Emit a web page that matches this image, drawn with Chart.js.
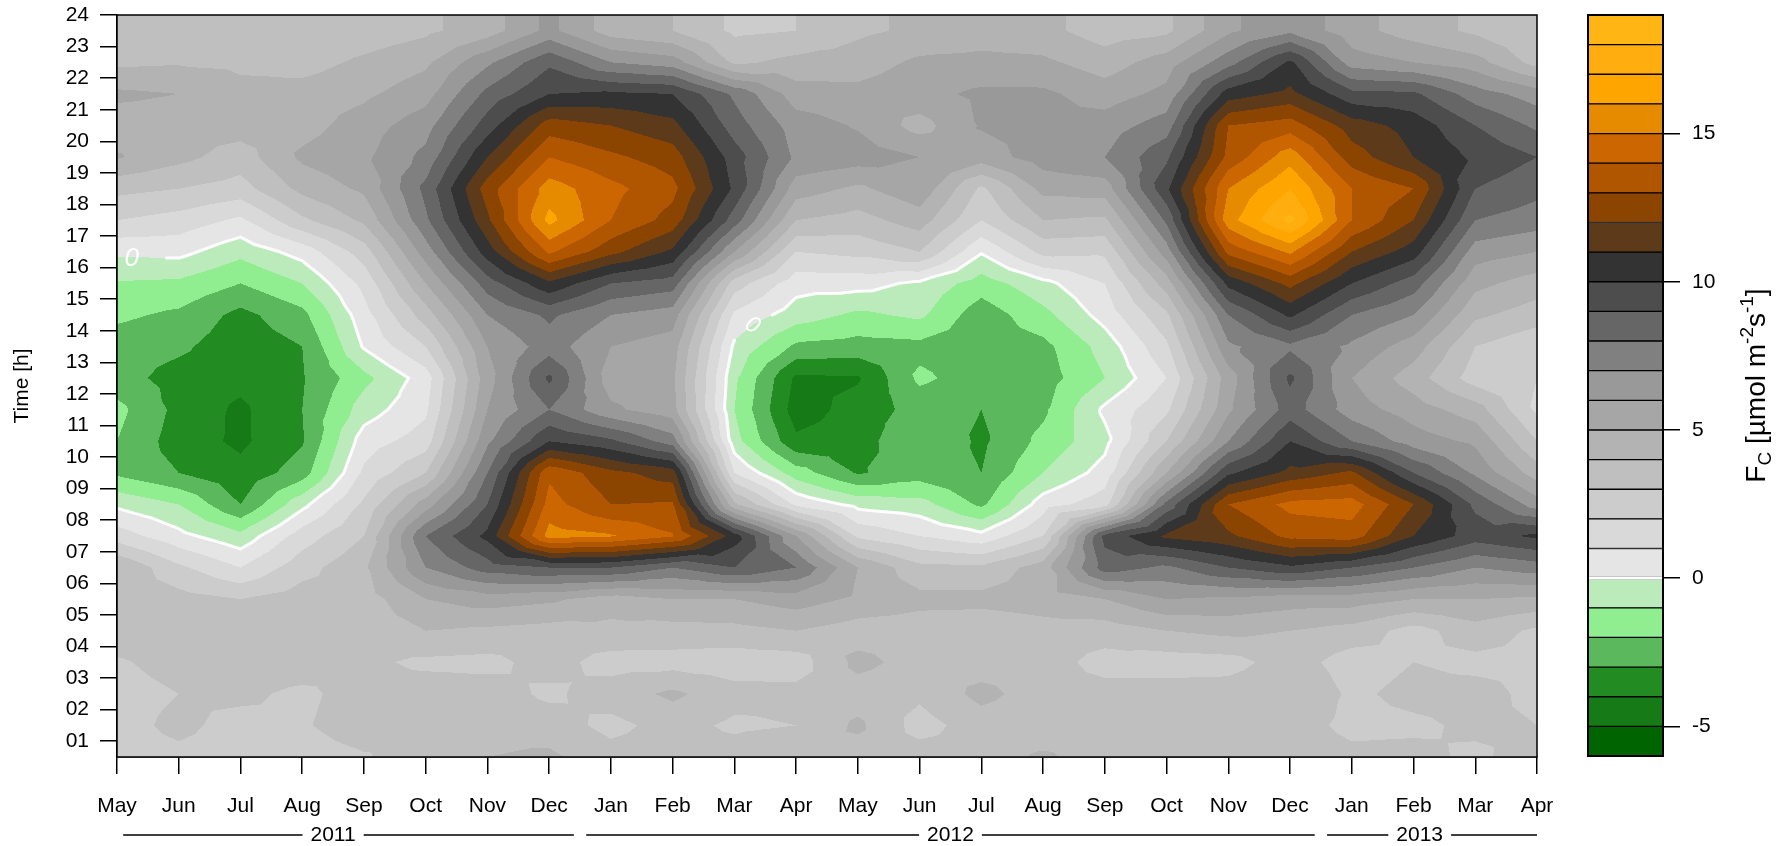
<!DOCTYPE html>
<html>
<head>
<meta charset="utf-8">
<title>CO2 flux fingerprint</title>
<style>
  html, body { margin: 0; padding: 0; background: #ffffff; }
  #wrap { position: relative; width: 1785px; height: 846px; overflow: hidden; background: #ffffff; }
  canvas { position: absolute; top: 0; }
  #main { left: 0; }
  #bar { left: 1560px; }
</style>
<script src="https://cdn.jsdelivr.net/npm/chart.js@4.4.1/dist/chart.umd.min.js"></script>
</head>
<body>
<div id="wrap">
  <canvas id="main" width="1560" height="846"></canvas>
  <canvas id="bar" width="225" height="846"></canvas>
</div>
<script>
// ---- axis categories -------------------------------------------------------
const monthLabels = ['May','Jun','Jul','Aug','Sep','Oct','Nov','Dec','Jan','Feb','Mar','Apr',
                     'May','Jun','Jul','Aug','Sep','Oct','Nov','Dec','Jan','Feb','Mar','Apr'];
const hours = [0.5, 1.5, 2.5, 3.5, 4.5, 5.5, 6.5, 7.5, 8.5, 9.5, 10.5, 11.5,
               12.5, 13.5, 14.5, 15.5, 16.5, 17.5, 18.5, 19.5, 20.5, 21.5, 22.5, 23.5];
const hourTicks = [1, 2, 3, 4, 5, 6, 7, 8, 9, 10, 11, 12, 13, 14, 15, 16, 17, 18, 19, 20, 21, 22, 23, 24];
const years = ['2011', '2012', '2013'];
const yearSpanStart = [0.1, 7.6, 19.6];
const yearSpanEnd = [7.4, 19.4, 23.0];
const yearLabelAt = [3.5, 13.5, 21.1];

// ---- colour key: FC levels and band colours ---------------------------------
const fcLevels = [-6, -5, -4, -3, -2, -1, 0, 1, 2, 3, 4, 5, 6, 7, 8, 9, 10, 11, 12, 13, 14, 15, 16, 17, 18, 19];
const bandColors = ['#006400', '#167a16', '#228b22', '#5cb85c', '#90ee90', '#bbeabb',
                    '#e5e5e5', '#d9d9d9', '#cccccc', '#bfbfbf', '#b3b3b3', '#a6a6a6',
                    '#999999', '#808080', '#666666', '#4d4d4d', '#333333',
                    '#5c3a1a', '#8b4500', '#b05500', '#cc6600', '#e68a00', '#ffa500', '#ffad0f', '#ffb614'];
const keyTicks = [-5, 0, 5, 10, 15];

// ---- monthly mean diurnal FC, umol m-2 s-1, hours 00:30 .. 23:30 -------------
const fc2011May = [2.6, 2.7, 2.7, 2.9, 3.5, 3.6, 4.0, 1.5, -0.2, -2.2, -2.0, -1.7, -2.6, -2.5, -1.8, -1.1, 0.2, 2.0, 3.3, 5.1, 4.5, 5.2, 3.8, 3.5];
const fc2011Jun = [2.8, 3.2, 3.0, 3.3, 3.6, 3.4, 2.2, 0.3, -1.0, -3.0, -3.5, -3.3, -3.4, -2.8, -2.2, -1.2, 0.3, 1.6, 3.0, 4.3, 4.5, 5.0, 3.9, 3.4];
const fc2011Jul = [2.6, 2.7, 3.2, 3.6, 3.5, 3.0, 1.0, -0.7, -3.0, -3.7, -4.2, -4.2, -3.7, -3.6, -3.3, -2.0, -0.7, 0.8, 2.6, 3.5, 4.5, 4.3, 3.8, 3.0];
const fc2011Aug = [2.6, 2.9, 2.8, 3.5, 4.0, 3.5, 2.6, 1.5, -0.3, -2.5, -3.1, -3.0, -3.1, -3.0, -2.3, -1.0, 0.4, 2.8, 4.3, 5.2, 4.6, 4.4, 3.6, 3.0];
const fc2011Sep = [2.9, 3.5, 3.4, 3.2, 3.4, 3.5, 3.8, 3.0, 2.2, 1.2, 0.5, -0.5, -1.3, 0.1, 0.6, 1.3, 2.5, 4.2, 5.2, 5.8, 5.5, 4.8, 4.2, 3.4];
const fc2011Oct = [3.6, 3.1, 3.5, 2.8, 4.0, 5.0, 7.0, 8.0, 5.5, 3.0, 1.5, 0.8, 0.5, 2.0, 3.5, 5.0, 6.5, 7.8, 8.3, 7.3, 6.6, 5.6, 4.8, 3.8];
const fc2011Nov = [4.0, 3.7, 3.5, 2.7, 3.8, 5.5, 8.5, 10.3, 9.0, 8.0, 6.8, 6.0, 5.6, 6.0, 7.0, 8.5, 10.5, 11.8, 12.5, 11.0, 9.5, 8.3, 6.8, 4.5];
const fc2011Dec = [4.2, 3.5, 2.8, 3.4, 3.6, 5.2, 9.0, 15.4, 14.4, 13.8, 10.0, 8.0, 9.2, 7.5, 8.2, 10.8, 14.2, 16.3, 15.5, 14.0, 12.5, 10.0, 8.8, 6.3];
const fc2012Jan = [3.4, 2.7, 3.5, 2.6, 3.7, 4.5, 9.0, 15.1, 13.0, 12.3, 9.2, 6.2, 5.5, 6.0, 7.0, 9.0, 12.3, 14.0, 14.3, 13.2, 12.0, 10.2, 7.0, 4.5];
const fc2012Feb = [3.6, 3.4, 4.2, 2.6, 3.6, 5.0, 8.0, 14.1, 13.1, 11.5, 7.5, 5.4, 5.2, 5.5, 6.5, 8.5, 10.8, 12.6, 13.3, 12.5, 11.3, 10.0, 6.5, 4.0];
const fc2012Mar = [3.5, 2.8, 3.4, 2.4, 3.7, 5.0, 9.0, 10.5, 4.2, 1.0, -0.6, -1.0, -0.8, -0.2, 0.8, 2.5, 6.0, 8.5, 9.8, 9.5, 8.5, 7.8, 3.8, 2.8];
const fc2012Apr = [4.0, 3.0, 3.3, 2.5, 4.0, 5.5, 8.0, 6.0, 0.8, -1.5, -3.8, -4.5, -4.2, -2.2, -0.5, 0.4, 2.0, 4.0, 5.5, 6.8, 6.5, 5.5, 4.3, 3.0];
const fc2012May = [3.5, 4.2, 3.5, 4.3, 3.5, 4.8, 5.0, 1.8, -0.3, -3.1, -3.5, -3.6, -4.1, -2.4, -1.2, 0.4, 2.3, 3.6, 4.8, 6.5, 5.9, 5.3, 4.5, 3.8];
const fc2012Jun = [3.5, 2.6, 3.2, 3.6, 3.5, 4.3, 3.3, 1.0, -0.6, -2.5, -2.0, -2.6, -1.8, -2.3, -0.8, -0.2, 3.0, 4.5, 5.7, 6.0, 4.6, 5.7, 5.2, 4.2];
const fc2012Jul = [3.4, 3.5, 4.3, 3.5, 3.3, 4.3, 3.2, 0.3, -2.2, -3.0, -3.2, -3.0, -2.5, -2.6, -2.6, -1.5, 0.1, 2.0, 2.8, 5.5, 6.1, 6.2, 5.3, 4.5];
const fc2012Aug = [4.2, 3.2, 3.5, 3.5, 3.6, 4.5, 4.5, 2.0, 0.5, -1.0, -1.7, -2.2, -2.5, -2.3, -1.3, -0.3, 2.3, 4.0, 5.3, 6.5, 6.3, 6.2, 5.2, 4.3];
const fc2012Sep = [3.4, 3.5, 3.4, 2.6, 3.5, 5.0, 8.5, 9.3, 1.6, 0.4, -0.3, 0.2, -1.0, -0.6, 0.4, 1.0, 2.2, 3.8, 5.5, 7.0, 6.5, 5.5, 4.5, 3.5];
const fc2012Oct = [4.0, 3.0, 3.5, 2.5, 4.0, 6.0, 7.8, 11.2, 8.3, 5.0, 3.0, 1.8, 1.0, 1.8, 2.8, 4.5, 6.5, 8.2, 9.8, 8.8, 7.5, 6.3, 5.5, 3.8];
const fc2012Nov = [3.6, 3.6, 3.5, 2.6, 4.3, 5.8, 9.0, 11.8, 13.0, 9.8, 7.0, 5.8, 5.5, 6.8, 8.0, 10.3, 13.3, 15.6, 15.0, 13.3, 13.0, 10.5, 7.6, 5.8];
const fc2012Dec = [3.7, 3.5, 4.0, 3.5, 4.0, 5.5, 9.8, 13.3, 14.3, 11.3, 10.0, 8.5, 9.2, 7.8, 10.2, 12.3, 15.2, 18.3, 17.0, 15.6, 13.5, 11.3, 10.2, 6.8];
const fc2013Jan = [3.3, 2.7, 2.8, 2.5, 3.6, 5.5, 9.0, 13.5, 14.5, 12.2, 8.0, 6.5, 6.0, 6.8, 8.0, 10.0, 12.0, 14.0, 14.0, 12.5, 11.5, 9.3, 6.5, 5.4];
const fc2013Feb = [3.3, 2.8, 3.3, 3.0, 2.6, 5.0, 8.0, 11.0, 12.0, 9.0, 6.5, 5.5, 4.5, 5.5, 7.0, 8.5, 10.5, 12.0, 13.0, 11.0, 10.6, 9.2, 6.0, 4.5];
const fc2013Mar = [2.8, 3.2, 3.4, 2.7, 3.6, 5.0, 7.0, 9.5, 8.8, 6.8, 5.8, 4.5, 2.5, 3.0, 4.2, 5.3, 6.5, 8.0, 9.0, 9.8, 9.0, 7.5, 5.4, 3.8];
const fc2013Apr = [3.5, 3.0, 2.7, 2.8, 2.8, 4.8, 7.5, 10.2, 6.5, 4.5, 3.0, 1.8, 2.0, 2.2, 3.5, 4.5, 6.0, 7.5, 8.3, 9.0, 7.8, 6.5, 3.6, 3.0];

const fcColumns = [fc2011May, fc2011Jun, fc2011Jul, fc2011Aug, fc2011Sep, fc2011Oct, fc2011Nov, fc2011Dec,
                   fc2012Jan, fc2012Feb, fc2012Mar, fc2012Apr, fc2012May, fc2012Jun, fc2012Jul, fc2012Aug,
                   fc2012Sep, fc2012Oct, fc2012Nov, fc2012Dec, fc2013Jan, fc2013Feb, fc2013Mar, fc2013Apr];

// ---- field interpolation (each grid cell split into four triangles) --------
const nCols = fcColumns.length;
const nRows = hours.length;

function bary(px, py, p1, p2, p3) {
  const det = (p2[1] - p3[1]) * (p1[0] - p3[0]) + (p3[0] - p2[0]) * (p1[1] - p3[1]);
  const l1 = ((p2[1] - p3[1]) * (px - p3[0]) + (p3[0] - p2[0]) * (py - p3[1])) / det;
  const l2 = ((p3[1] - p1[1]) * (px - p3[0]) + (p1[0] - p3[0]) * (py - p3[1])) / det;
  return l1 * p1[2] + l2 * p2[2] + (1 - l1 - l2) * p3[2];
}

function fieldAt(m, h) {
  const xm = Math.min(Math.max(m, 0), nCols - 1);
  const yh = Math.min(Math.max(h, hours[0]), hours[nRows - 1]);
  const i = Math.min(Math.floor(xm), nCols - 2);
  let j = Math.floor(yh - hours[0]);
  j = Math.min(Math.max(j, 0), nRows - 2);
  const fx = xm - i;
  const fy = (yh - hours[j]) / (hours[j + 1] - hours[j]);
  const a = fcColumns[i][j], b = fcColumns[i + 1][j], c = fcColumns[i][j + 1], d = fcColumns[i + 1][j + 1];
  const e = [0.5, 0.5, (a + b + c + d) / 4];
  const dx = fx - 0.5, dy = fy - 0.5;
  if (Math.abs(dx) >= Math.abs(dy)) {
    if (dx >= 0) return bary(fx, fy, e, [1, 0, b], [1, 1, d]);
    return bary(fx, fy, e, [0, 0, a], [0, 1, c]);
  }
  if (dy < 0) return bary(fx, fy, e, [0, 0, a], [1, 0, b]);
  return bary(fx, fy, e, [0, 1, c], [1, 1, d]);
}

function hexToRgb(hex) {
  const n = parseInt(hex.slice(1), 16);
  return [(n >> 16) & 255, (n >> 8) & 255, n & 255];
}
const bandRgb = bandColors.map(hexToRgb);

function bandIndex(v) {
  let k = 0;
  while (k < bandColors.length - 1 && v >= fcLevels[k + 1]) k++;
  return k;
}

function zeroSegments() {
  const segs = [];
  for (let i = 0; i < nCols - 1; i++) {
    for (let j = 0; j < nRows - 1; j++) {
      const x0 = i, x1 = i + 1, y0 = hours[j], y1 = hours[j + 1];
      const a = fcColumns[i][j], b = fcColumns[i + 1][j], c = fcColumns[i][j + 1], d = fcColumns[i + 1][j + 1];
      const E = [(x0 + x1) / 2, (y0 + y1) / 2, (a + b + c + d) / 4];
      const A = [x0, y0, a], B = [x1, y0, b], C = [x0, y1, c], D = [x1, y1, d];
      for (const tri of [[E, A, B], [E, B, D], [E, D, C], [E, C, A]]) {
        const pts = [];
        for (let k = 0; k < 3; k++) {
          const p = tri[k], q = tri[(k + 1) % 3];
          if ((p[2] < 0) !== (q[2] < 0)) {
            const t = p[2] / (p[2] - q[2]);
            pts.push([p[0] + t * (q[0] - p[0]), p[1] + t * (q[1] - p[1])]);
          }
        }
        if (pts.length === 2) segs.push(pts);
      }
    }
  }
  return segs;
}

// zero-contour labels (month index, hour, rotation)
const zeroLabelSpots = [
  { m: 0.24, h: 16.32, rot: 0.0, size: 26 },
  { m: 10.3, h: 14.2, rot: 0.55, size: 23 }
];

const FONT = "'Liberation Sans', Arial, Helvetica, sans-serif";
Chart.defaults.font.family = FONT;
Chart.defaults.color = '#000000';

// ---- plugins ------------------------------------------------------------------
const fluxField = {
  id: 'fluxField',
  beforeDatasetsDraw(chart) {
    const { ctx, chartArea: area, scales } = chart;
    const xs = scales.x, ys = scales.y;
    const L = Math.round(area.left), T = Math.round(area.top);
    const W = Math.round(area.right) - L, H = Math.round(area.bottom) - T;
    const img = ctx.createImageData(W, H);
    const px = img.data;
    const mAt = new Float64Array(W);
    for (let c = 0; c < W; c++) mAt[c] = xs.getValueForPixel(L + c + 0.5);
    for (let r = 0; r < H; r++) {
      const hv = ys.getValueForPixel(T + r + 0.5);
      for (let c = 0; c < W; c++) {
        const rgb = bandRgb[bandIndex(fieldAt(mAt[c], hv))];
        const o = (r * W + c) * 4;
        px[o] = rgb[0]; px[o + 1] = rgb[1]; px[o + 2] = rgb[2]; px[o + 3] = 255;
      }
    }
    ctx.putImageData(img, L, T);

    // zero contour, white, with gaps for its labels
    const labelPix = zeroLabelSpots.map(s => [xs.getPixelForValue(s.m), ys.getPixelForValue(s.h)]);
    ctx.save();
    ctx.beginPath();
    ctx.rect(area.left, area.top, area.right - area.left, area.bottom - area.top);
    ctx.clip();
    ctx.strokeStyle = '#ffffff';
    ctx.lineWidth = 3;
    ctx.lineCap = 'round';
    ctx.lineJoin = 'round';
    ctx.beginPath();
    for (const s of zeroSegments()) {
      const ax = xs.getPixelForValue(s[0][0]), ay = ys.getPixelForValue(s[0][1]);
      const bx = xs.getPixelForValue(s[1][0]), by = ys.getPixelForValue(s[1][1]);
      const mx = (ax + bx) / 2, my = (ay + by) / 2;
      if (labelPix.some(p => Math.hypot(p[0] - mx, p[1] - my) < 16)) continue;
      ctx.moveTo(ax, ay);
      ctx.lineTo(bx, by);
    }
    ctx.stroke();
    ctx.fillStyle = '#ffffff';
    ctx.textAlign = 'center';
    ctx.textBaseline = 'middle';
    zeroLabelSpots.forEach((s, k) => {
      ctx.save();
      ctx.translate(labelPix[k][0], labelPix[k][1]);
      ctx.rotate(s.rot);
      ctx.font = 'italic ' + s.size + 'px ' + FONT;
      ctx.fillText('0', 0, 1);
      ctx.restore();
    });
    ctx.restore();
  },
  afterDraw(chart) {
    const { ctx, chartArea: area, scales } = chart;
    ctx.save();
    ctx.strokeStyle = '#000000';
    ctx.lineWidth = 1.5;
    ctx.strokeRect(area.left, area.top, area.right - area.left, area.bottom - area.top);

    // year annotation under the month labels
    ctx.font = '21px ' + FONT;
    ctx.fillStyle = '#000000';
    ctx.textAlign = 'center';
    ctx.textBaseline = 'middle';
    const yLine = 835;
    years.forEach((yr, k) => {
      const x0 = scales.x.getPixelForValue(yearSpanStart[k]);
      const x1 = scales.x.getPixelForValue(yearSpanEnd[k]);
      const xc = scales.x.getPixelForValue(yearLabelAt[k]);
      const w = ctx.measureText(yr).width;
      ctx.fillText(yr, xc, yLine);
      ctx.beginPath();
      ctx.moveTo(x0, yLine); ctx.lineTo(xc - w / 2 - 8, yLine);
      ctx.moveTo(xc + w / 2 + 8, yLine); ctx.lineTo(x1, yLine);
      ctx.stroke();
    });
    ctx.restore();
  }
};

const gridPoints = [];
fcColumns.forEach((col, i) => col.forEach((v, j) => gridPoints.push({ x: i, y: hours[j], v })));

const mainChart = new Chart(document.getElementById('main'), {
  type: 'scatter',
  data: {
    datasets: [{ label: 'FC', data: gridPoints, pointRadius: 0, pointHoverRadius: 0, showLine: false }]
  },
  options: {
    responsive: false,
    devicePixelRatio: 1,
    animation: false,
    events: [],
    layout: { padding: { left: 0, top: 15, right: 23, bottom: 0 } },
    plugins: { legend: { display: false }, tooltip: { enabled: false } },
    scales: {
      x: {
        type: 'linear',
        min: 0,
        max: monthLabels.length - 1,
        afterBuildTicks: s => { s.ticks = monthLabels.map((_, i) => ({ value: i })); },
        afterFit: s => { s.height = 89; s.paddingLeft = 0; s.paddingRight = 0; },
        ticks: {
          callback: (v, i) => monthLabels[i],
          autoSkip: false, maxRotation: 0, minRotation: 0,
          font: { size: 21 }, color: '#000000', padding: 20
        },
        grid: { drawOnChartArea: false, drawTicks: true, tickLength: 17, color: '#000000', lineWidth: 1.5 },
        border: { display: true, color: '#000000', width: 1.5 }
      },
      y: {
        type: 'linear',
        min: 0.5,
        max: 24,
        afterBuildTicks: s => { s.ticks = hourTicks.map(v => ({ value: v })); },
        afterFit: s => { s.width = 117; s.paddingTop = 0; s.paddingBottom = 0; },
        ticks: {
          callback: v => String(v).padStart(2, '0'),
          autoSkip: false,
          font: { size: 21 }, color: '#000000', padding: 11
        },
        grid: { drawOnChartArea: false, drawTicks: true, tickLength: 17, color: '#000000', lineWidth: 1.5 },
        border: { display: true, color: '#000000', width: 1.5 },
        title: { display: true, text: 'Time [h]', font: { size: 21 }, color: '#000000', padding: { top: 10, bottom: 0 } }
      }
    }
  },
  plugins: [fluxField]
});

// ---- colour key ---------------------------------------------------------------
const keyExtras = {
  id: 'keyExtras',
  afterDatasetsDraw(chart) {
    const { ctx, chartArea: area, scales } = chart;
    const y0 = scales.y.getPixelForValue(0);
    ctx.save();
    ctx.fillStyle = '#ffffff';
    ctx.fillRect(area.left + 1, y0 - 1.5, area.right - area.left - 2, 3);
    ctx.strokeStyle = '#000000';
    ctx.lineWidth = 2;
    ctx.strokeRect(area.left, area.top, area.right - area.left, area.bottom - area.top);
    ctx.restore();
  },
  afterDraw(chart) {
    const { ctx, chartArea: area } = chart;
    // rotated unit label: F_C [umol m^-2 s^-1]
    const big = 28, small = 19;
    const parts = [
      { t: 'F', size: big, dy: 0 },
      { t: 'C', size: small, dy: 6 },
      { t: ' [\u00b5mol m', size: big, dy: 0 },
      { t: '-2', size: small, dy: -12 },
      { t: 's', size: big, dy: 0 },
      { t: '-1', size: small, dy: -12 },
      { t: ']', size: big, dy: 0 }
    ];
    ctx.save();
    let total = 0;
    parts.forEach(p => { ctx.font = p.size + 'px ' + FONT; p.w = ctx.measureText(p.t).width; total += p.w; });
    ctx.translate(205, (area.top + area.bottom) / 2);
    ctx.rotate(-Math.PI / 2);
    ctx.fillStyle = '#000000';
    ctx.textBaseline = 'alphabetic';
    ctx.textAlign = 'left';
    let x = -total / 2;
    parts.forEach(p => {
      ctx.font = p.size + 'px ' + FONT;
      ctx.fillText(p.t, x, p.dy);
      x += p.w;
    });
    ctx.restore();
  }
};

new Chart(document.getElementById('bar'), {
  type: 'bar',
  data: {
    labels: [''],
    datasets: bandColors.map((c, k) => ({
      label: fcLevels[k] + '..' + fcLevels[k + 1],
      data: [[fcLevels[k], fcLevels[k + 1]]],
      backgroundColor: c,
      borderColor: '#000000',
      borderWidth: 1,
      borderSkipped: false,
      grouped: false,
      barPercentage: 1,
      categoryPercentage: 1
    }))
  },
  options: {
    responsive: false,
    devicePixelRatio: 1,
    animation: false,
    events: [],
    layout: { padding: { left: 28, top: 15, right: 0, bottom: 90 } },
    plugins: { legend: { display: false }, tooltip: { enabled: false } },
    scales: {
      x: { display: false },
      y: {
        position: 'right',
        min: fcLevels[0],
        max: fcLevels[fcLevels.length - 1],
        afterBuildTicks: s => { s.ticks = keyTicks.map(v => ({ value: v })); },
        afterFit: s => { s.width = 122; s.paddingTop = 0; s.paddingBottom = 0; },
        ticks: { font: { size: 21 }, color: '#000000', padding: 12, autoSkip: false },
        grid: { drawOnChartArea: false, drawTicks: true, tickLength: 17, color: '#000000', lineWidth: 1.5 },
        border: { display: true, color: '#000000', width: 1.5 }
      }
    }
  },
  plugins: [keyExtras]
});
</script>
</body>
</html>
